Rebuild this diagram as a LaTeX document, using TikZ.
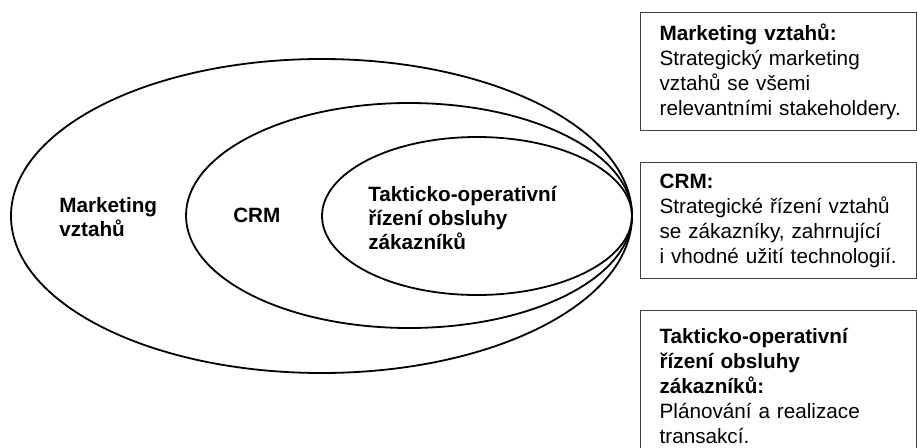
\documentclass[tikz,border=0pt]{standalone}
\usepackage{fontspec}
\setmainfont{Liberation Sans}
\usepackage{tikz}
\usetikzlibrary{shapes.geometric, positioning}
\tikzstyle{ring} = [ellipse, draw=black, line width=1.8pt, inner sep=0pt]
\tikzstyle{ringtext} = [align=left, inner sep=0pt, font=\fontsize{20.7}{24}\selectfont\bfseries]
\tikzstyle{infobox} = [rectangle, draw=black!75, line width=1.2pt, anchor=north west, minimum width=276, text width=276, inner xsep=0pt, inner ysep=0pt, align=left, font=\fontsize{20.7}{25}\selectfont, execute at begin node={\leftskip=19pt\parindent=0pt}]

\begin{document}
\begin{tikzpicture}[x=1pt, y=-1pt]
   \useasboundingbox (0,0) rectangle (917,447);
   \clip (0,0) rectangle (917,447);
   \node (mv) [ring, minimum width=621, minimum height=314] at (321.5,216) {};
   \node (crm) [ring, minimum width=446, minimum height=225] at (409,215.5) {};
   \node (tos) [ring, minimum width=310, minimum height=158] at (477,216) {};
   \node (mvtext) [ringtext, right=49pt of mv.west, yshift=-1.5pt] {Marketing\\vztahů};
   \node (crmtext) [ringtext, right=48pt of crm.west] {CRM};
   \node (tostext) [ringtext, right=47pt of tos.west, yshift=-2pt] {Takticko-operativní\\řízení obsluhy\\zákazníků};
   \node (mvbox) [infobox, minimum height=118] at (640,12) {\textbf{Marketing vztahů:}\\Strategický marketing\\vztahů se všemi\\relevantními stakeholdery.};
   \node (crmbox) [infobox, minimum height=116] at (640,162) {\textbf{CRM:}\\Strategické řízení vztahů\\se zákazníky, zahrnující\\i vhodné užití technologií.};
   \node (tosbox) [infobox, minimum height=150] at (640,310) {\textbf{Takticko-operativní}\\\textbf{řízení obsluhy}\\\textbf{zákazníků:}\\Plánování a realizace\\transakcí.};
\end{tikzpicture}
\end{document}
